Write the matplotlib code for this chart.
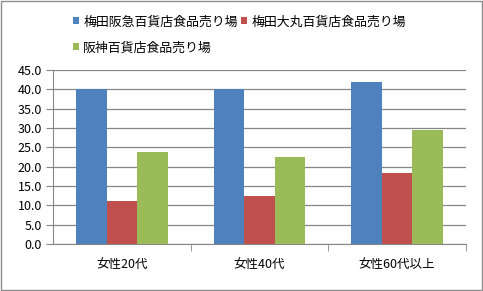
import numpy as np
import matplotlib.pyplot as plt
from matplotlib.patches import Rectangle

plt.rcParams['font.family'] = ['Noto Sans CJK JP', 'DejaVu Sans']

# データ
categories = ['女性20代', '女性40代', '女性60代以上']
series_names = ['梅田阪急百貨店食品売り場', '梅田大丸百貨店食品売り場', '阪神百貨店食品売り場']
hankyu = [40.0, 40.0, 41.9]
daimaru = [11.1, 12.4, 18.4]
hanshin = [23.8, 22.5, 29.5]
yticks = [0, 5, 10, 15, 20, 25, 30, 35, 40, 45]

colors = ['#4F81BD', '#C0504D', '#9BBB59']
grid_c = '#868686'

fig = plt.figure(figsize=(4.83, 2.91), dpi=100)
fig.patches.append(Rectangle((0.002, 0.003), 0.995, 0.994, transform=fig.transFigure,
                             fill=False, edgecolor='#8c8c8c', linewidth=1))
ax = fig.add_axes([0.1097, 0.1615, 0.855, 0.598])

x = np.arange(len(categories))
w = 0.222
bars = []
for i, vals in enumerate([hankyu, daimaru, hanshin]):
    b = ax.bar(x + (i - 1) * w, vals, w, color=colors[i], label=series_names[i], zorder=3)
    bars.append(b)

ax.set_xlim(-0.5, len(categories) - 0.5)
ax.set_ylim(0, 45)
ax.set_yticks(yticks)
ax.set_yticklabels(['{:.1f}'.format(v) for v in yticks], fontsize=9)
ax.yaxis.grid(True, color=grid_c, linewidth=0.9, zorder=0)

ax.set_xticks(x)
ax.set_xticklabels(categories, fontsize=9)
ax.tick_params(axis='x', length=0, pad=10)
ax.set_xticks([0.5, 1.5, 2.5], minor=True)
ax.tick_params(axis='x', which='minor', length=5, color=grid_c, direction='out')
ax.tick_params(axis='y', length=5, color=grid_c, pad=3)

for s in ['top', 'right']:
    ax.spines[s].set_visible(False)
ax.spines['left'].set_color(grid_c)
ax.spines['bottom'].set_color(grid_c)

# 凡例（行方向に並べる）
handles = [bars[0], bars[2], bars[1]]
labels = [series_names[0], series_names[2], series_names[1]]
fig.legend(handles, labels, ncol=2, loc='upper left', bbox_to_anchor=(0.14, 0.965),
           frameon=False, fontsize=9.3, handlelength=0.5, handleheight=0.5,
           handletextpad=0.3, columnspacing=0.25, labelspacing=1.0, borderaxespad=0)

fig.savefig('out.png', dpi=100)
